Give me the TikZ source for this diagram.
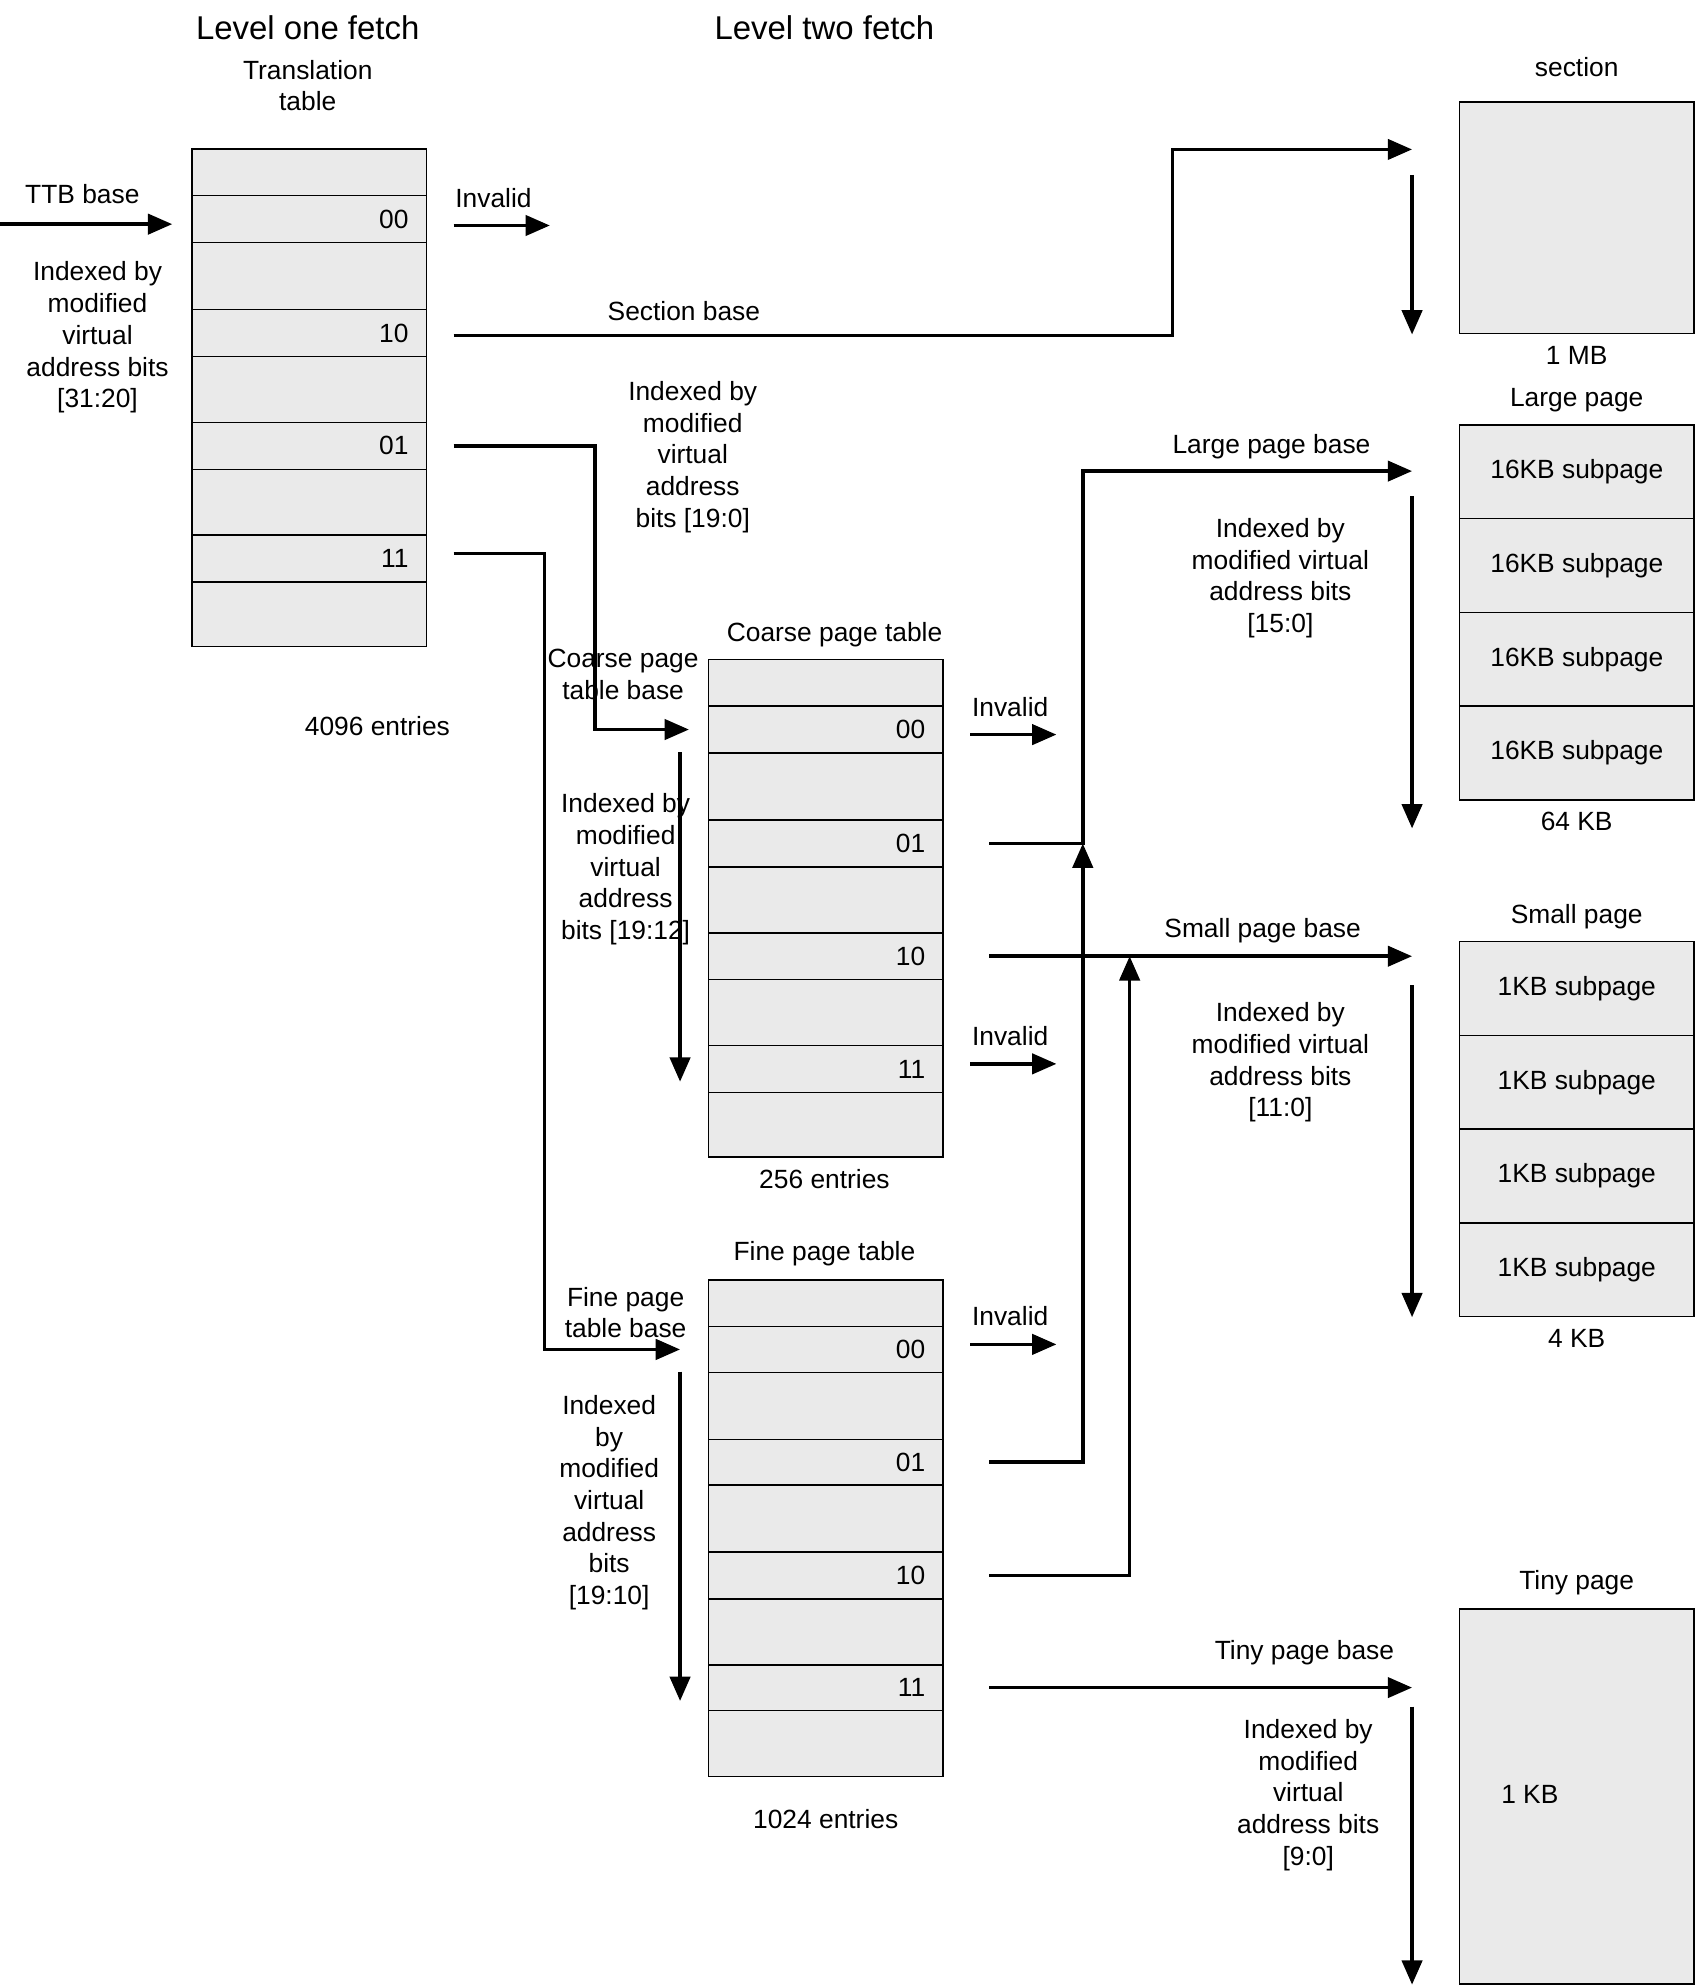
\documentclass[tikz,border=0pt]{standalone}
\usepackage{fontspec}
\setmainfont{Liberation Sans}
\usetikzlibrary{arrows.meta,positioning,calc}

\definecolor{cellgray}{RGB}{234,234,234}
\def\pxl{0.025cm}

\tikzset{
  cell/.style={draw, fill=cellgray, line width=0.8pt, minimum width=4.625cm,
    text width=3.925cm, inner xsep=0.35cm, align=right},
  pagebox/.style={draw, fill=cellgray, line width=0.8pt, minimum width=4.625cm,
    inner sep=0pt, anchor=north west},
  conn/.style={line width=2pt, -{Triangle[length=0.48cm,width=0.4cm]}},
  title/.style={font=\fontsize{18.5}{22}\selectfont},
  invalid/.style={pos=0, anchor=west, inner xsep=0pt, yshift=0.55cm},
}

% one table of nine rows: name, x, top y, rows as height/label
\newcommand\pagetable[4]{%
  \foreach \h/\lab [count=\i, remember=\ynext as \ytop (initially #3),
      evaluate=\h as \ynext using {\ytop+\h}] in {#4}
    \node[cell, minimum height=\h*\pxl, anchor=north west] (#1-\i) at (#2,\ytop) {\lab};
}

\begin{document}
\begin{tikzpicture}[x=\pxl, y=-\pxl, font=\fontsize{14.8}{17.8}\selectfont]
  \useasboundingbox (0,0) rectangle (1340,1569);

  \node[title] (lvl-one) at (243,22) {Level one fetch};
  \node[title] (lvl-two) at (651,22) {Level two fetch};

  % level one
  \node[align=center] (tt-name) at (243,67.5) {Translation\\table};
  \pagetable{tt}{151}{117}{37/{},37/00,53/{},37/10,52/{},37/01,52/{},37/11,51/{}}
  \node (tt-count) at (298,573) {4096 entries};
  \node (ttb-lab) at (65,153) {TTB base};
  \node[align=center] (tt-idx) at (77,266.5) {Indexed by\\modified\\virtual\\address bits\\{[31:20]}};

  % level two
  \node (ct-name) at (659,501) {Coarse page table};
  \pagetable{ct}{559}{520}{37/{},37/00,53/{},37/01,52/{},37/10,52/{},37/11,51/{}}
  \node (ct-count) at (651,931) {256 entries};
  \node[align=center] (ct-base) at (492,532.5) {Coarse page\\table base};
  \node[align=center] (ct-idx) at (494,686.5) {Indexed by\\modified\\virtual\\address\\bits [19:12]};

  \node (ft-name) at (651,990) {Fine page table};
  \pagetable{ft}{559}{1010}{37/{},36/00,53/{},36/01,53/{},37/10,52/{},36/11,52/{}}
  \node (ft-count) at (652,1436) {1024 entries};
  \node[align=center] (ft-base) at (494,1036.5) {Fine page\\table base};
  \node[align=center] (ft-idx) at (481,1186.5) {Indexed\\by\\modified\\virtual\\address\\bits\\{[19:10]}};

  \node[align=center] (l1-idx) at (547,361) {Indexed by\\modified\\virtual\\address\\bits [19:0]};

  % pages
  \node (sec-name) at (1245,53) {section};
  \node[pagebox, minimum height=183*\pxl] (sec) at (1152,80) {};
  \node (sec-size) at (1245,281) {1 MB};

  \node (lp-name) at (1245,316) {Large page};
  \foreach \i in {1,...,4}
    \node[pagebox, minimum height=74*\pxl] (lp-\i) at (1152,{335+74*(\i-1)}) {16KB subpage};
  \node (lp-size) at (1245,649) {64 KB};

  \node (sp-name) at (1245,724) {Small page};
  \foreach \i in {1,...,4}
    \node[pagebox, minimum height=74*\pxl] (sp-\i) at (1152,{743+74*(\i-1)}) {1KB subpage};
  \node (sp-size) at (1245,1057) {4 KB};

  \node (tp-name) at (1245,1250) {Tiny page};
  \node[pagebox, minimum height=296*\pxl] (tiny) at (1152,1270) {};
  \node (tp-size) at (1208,1417) {1 KB};

  \node (sec-base) at (540,246) {Section base};
  \node (lp-base) at (1004,353) {Large page base};
  \node[align=center] (lp-idx) at (1011,456.5) {Indexed by\\modified virtual\\address bits\\{[15:0]}};
  \node (sp-base) at (997,735) {Small page base};
  \node[align=center] (sp-idx) at (1011,839) {Indexed by\\modified virtual\\address bits\\{[11:0]}};
  \node (tp-base) at (1030,1305) {Tiny page base};
  \node[align=center] (tp-idx) at (1033,1417.5) {Indexed by\\modified\\virtual\\address bits\\{[9:0]}};

  % connectors
  \coordinate (ttb) at (0,177);
  \coordinate (pin) at (1115,0);
  \coordinate (secbus) at (926,118);
  \coordinate (lbus) at (855,372);
  \coordinate (sbus) at (892,0);
  \coordinate (cbus) at (470,0);
  \coordinate (fbus) at (430,0);
  \coordinate (idx) at (537,0);

  \draw[conn, shorten >=0.375cm] (ttb) -- (ttb -| tt-2.west);
  \draw[conn] ($(tt-2.east)+(21,5)$) -- ++(76,0) node[invalid] (tt-inv) {Invalid};
  \draw[conn] (tt-4.east) ++(21,2) -| (secbus) -- (pin |- secbus);
  \draw[conn, shorten >=0.375cm] (tt-6.east) ++(21,0) -| (cbus |- ct-2) -- (ct-2.west);
  \draw[conn, shorten >=0.55cm] (tt-8.east) ++(21,-4) -| (fbus |- ft-2) -- (ft-2.west);

  \draw[conn] ($(ct-2.east)+(21,4)$) -- ++(68,0) node[invalid] (ct-inv0) {Invalid};
  \draw[conn] ($(ct-8.east)+(21,-4)$) -- ++(68,0) node[invalid] (ct-inv3) {Invalid};
  \draw[conn] ($(ft-2.east)+(21,-4)$) -- ++(68,0) node[invalid] (ft-inv0) {Invalid};

  \draw[conn] (ct-4.east) ++(36,0) -| (lbus) -- (pin |- lbus);
  \draw[conn] (ft-4.east) ++(36,0) -| (lbus |- ct-4);
  \draw[conn] (ct-6.east) ++(36,0) -- (pin |- ct-6);
  \draw[conn] (ft-6.east) ++(36,0) -| (sbus |- ct-6);
  \draw[conn] (ft-8.east) ++(36,0) -- (pin |- ft-8);

  \draw[conn, shorten >=0.225cm] (idx |- ct-3.north) -- (idx |- ct-8.south);
  \draw[conn, shorten >=0.2cm] (idx |- ft-3.north) -- (idx |- ft-8.south);
  \draw[conn] ($(pin |- sec.north)+(0,58)$) -- (pin |- sec.south);
  \draw[conn] ($(pin |- lbus)+(0,20)$) -- ($(pin |- lp-4.south)+(0,22)$);
  \draw[conn] ($(pin |- ct-6)+(0,23)$) -- (pin |- sp-4.south);
  \draw[conn] ($(pin |- ft-8)+(0,15)$) -- (pin |- tiny.south);
\end{tikzpicture}
\end{document}
